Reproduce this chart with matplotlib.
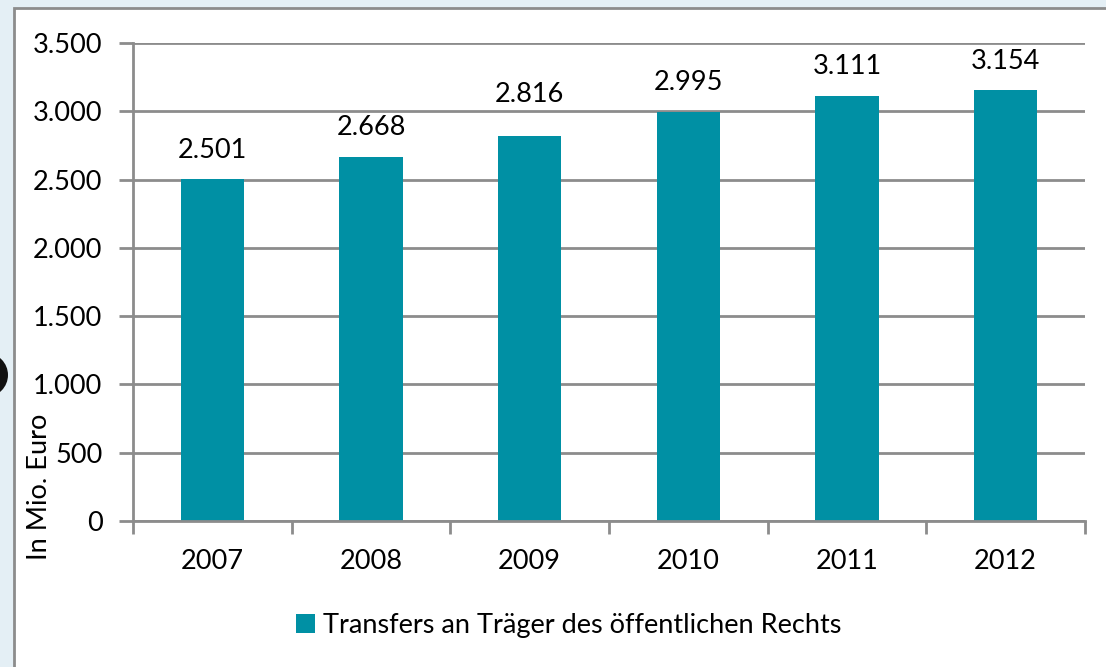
import matplotlib.pyplot as plt
from matplotlib.patches import Rectangle, Circle
from matplotlib.ticker import FuncFormatter

years = ['2007', '2008', '2009', '2010', '2011', '2012']
values = [2501, 2668, 2816, 2995, 3111, 3154]
series_name = 'Transfers an Träger des öffentlichen Rechts'

bar_color = '#0090a4'
grid_color = '#8c8c8c'

plt.rcParams['font.family'] = ['Lato', 'DejaVu Sans']
fs = 19.5

W, H = 1106, 667
fig = plt.figure(figsize=(W / 100, H / 100), dpi=100)
fig.patch.set_facecolor('#e4eff5')

# white chart box with gray border (runs off right and bottom edge)
fig.patches.append(Rectangle((14 / W, -0.1), 1.2, 1 - 8 / H + 0.1,
                             transform=fig.transFigure, facecolor='white',
                             edgecolor='#8c8c8c', linewidth=2, zorder=-2))
# dark circle peeking in from the left
fig.patches.append(Circle((-14, H - 375), 22, transform=None,
                          facecolor='#111111', edgecolor='none', zorder=-1))

ax = fig.add_axes([133 / W, 1 - 521 / H, (1085 - 133) / W, (521 - 43) / H])
ax.set_facecolor('none')

x = range(len(years))
ax.bar(x, values, width=0.4, color=bar_color, zorder=3)

# the 2009 label sits a bit higher (moved off the gridline)
nudge = {2: 9}
for i, v in enumerate(values):
    ax.annotate(f'{v:,}'.replace(',', '.'), (i, v), xytext=(0, 12 + nudge.get(i, 0)),
                textcoords='offset points', ha='center', va='bottom',
                fontsize=fs)

ax.set_xlim(-0.5, len(years) - 0.5)
ax.set_ylim(0, 3500)
ax.set_yticks(range(0, 3501, 500))
ax.yaxis.set_major_formatter(FuncFormatter(lambda v, p: f'{int(v):,}'.replace(',', '.')))
ax.grid(axis='y', color=grid_color, linewidth=2, zorder=1)

ax.set_xticks([i - 0.5 for i in range(len(years) + 1)])
ax.set_xticklabels([])
ax.set_xticks(list(x), minor=True)
ax.set_xticklabels(years, minor=True)
ax.tick_params(axis='x', which='minor', length=0, pad=20, labelsize=fs)
ax.tick_params(axis='x', which='major', length=9, width=2, color=grid_color)
ax.tick_params(axis='y', length=10, width=2, color=grid_color, pad=12, labelsize=fs)

for s in ['top', 'right']:
    ax.spines[s].set_visible(False)
for s in ['left', 'bottom']:
    ax.spines[s].set_color(grid_color)
    ax.spines[s].set_linewidth(2)
    ax.spines[s].set_zorder(4)

fig.text(40 / W, 1 - 487 / H, 'In Mio. Euro', rotation=90, ha='center',
         va='center', fontsize=fs)

handle = Rectangle((0, 0), 1, 1, facecolor=bar_color)
fig.legend([handle], [series_name], loc='center', bbox_to_anchor=(569 / W, 1 - 625 / H),
           frameon=False, fontsize=fs, handlelength=0.7, handleheight=0.7,
           handletextpad=0.3)

fig.savefig('out.png', dpi=100)
